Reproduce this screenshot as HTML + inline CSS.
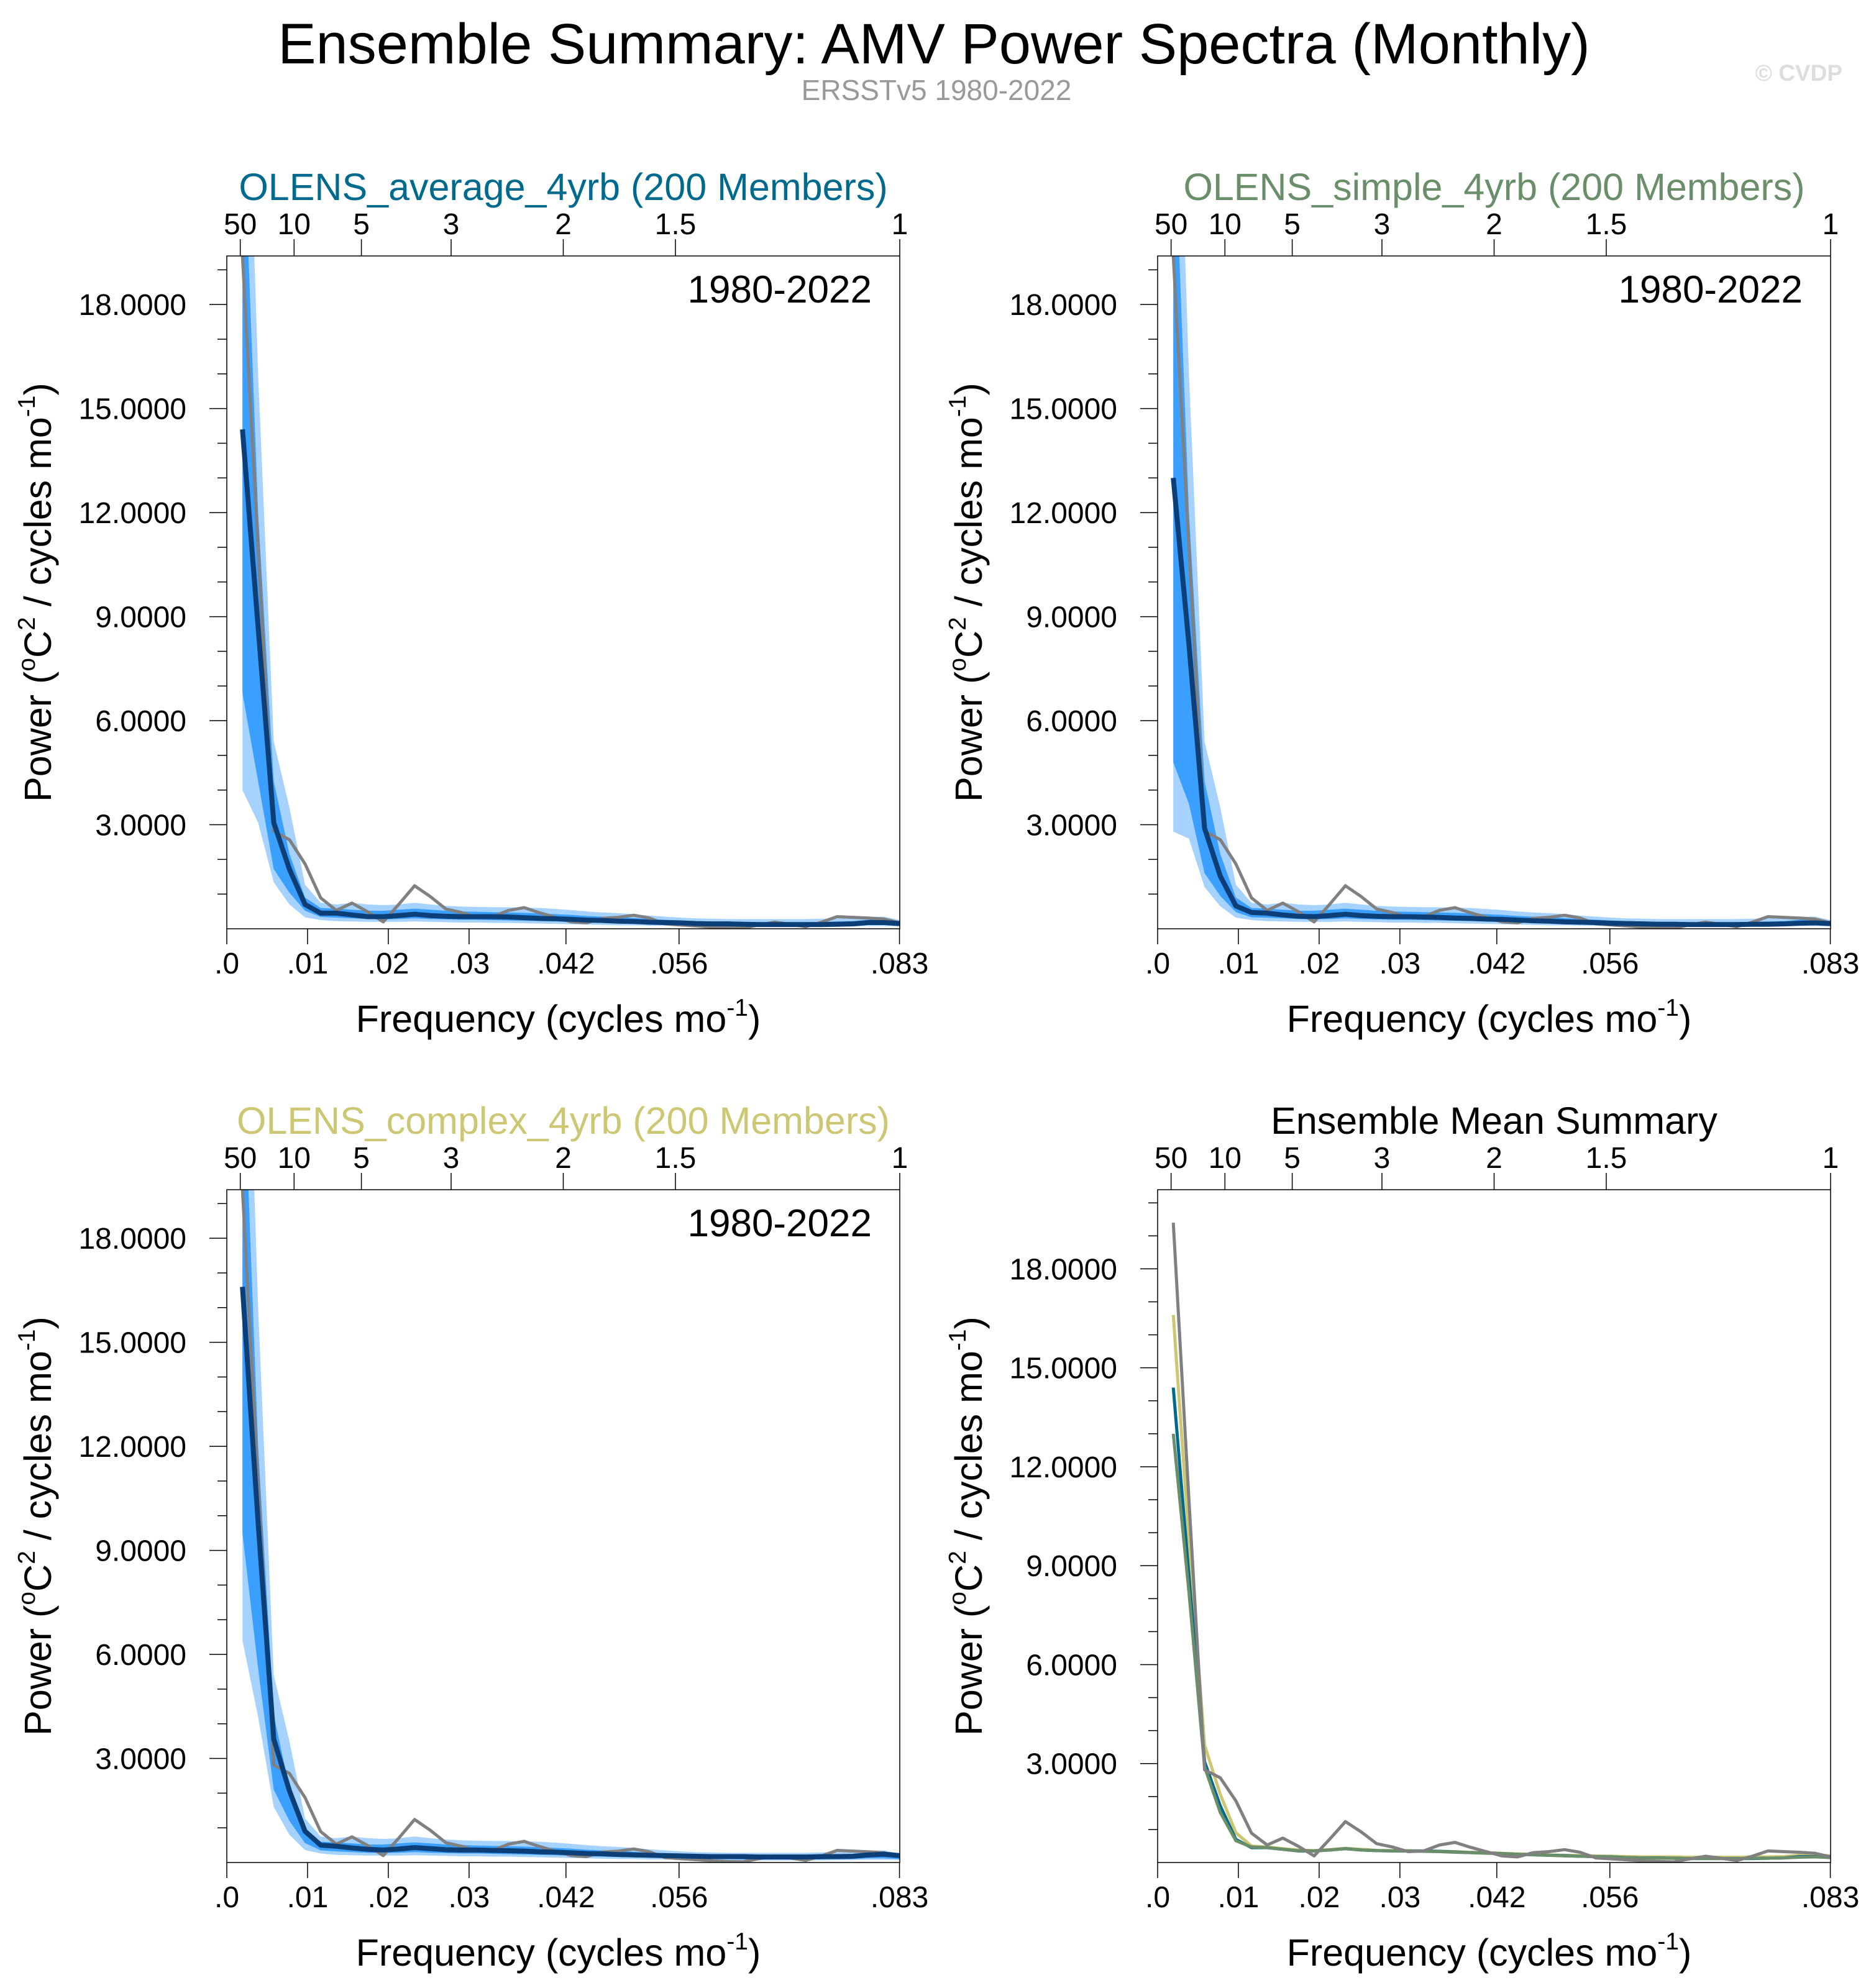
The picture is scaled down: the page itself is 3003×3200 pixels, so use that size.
<!DOCTYPE html>
<html><head><meta charset="utf-8"><style>
html,body{margin:0;padding:0;background:#fff;}
svg{display:block;font-family:"Liberation Sans",sans-serif;}
</style></head><body>
<svg id="fig" width="3003" height="3200" viewBox="0 0 3003 3200" xmlns="http://www.w3.org/2000/svg">
<text x="1503" y="102" font-size="92" text-anchor="middle" fill="#000">Ensemble Summary: AMV Power Spectra (Monthly)</text>
<text x="1507" y="161" font-size="46" text-anchor="middle" fill="#999">ERSSTv5 1980-2022</text>
<text x="2965" y="130" font-size="37" font-weight="bold" text-anchor="end" fill="#ddd">© CVDP</text>
<g id="panels"></g>
</svg>
<script>
// frequencies: k/516, k = 1..43
const obs = [19.4,11.0,2.81,2.57,1.87,0.89,0.53,0.74,0.49,0.20,0.71,1.24,0.93,0.57,0.47,0.33,0.35,0.53,0.61,0.46,0.33,0.20,0.17,0.30,0.33,0.39,0.31,0.14,0.11,0.08,0.05,0.03,0.02,0.11,0.19,0.13,0.06,0.19,0.35,0.33,0.31,0.28,0.17];
const meanAvg = [14.4,8.7,3.06,1.72,0.70,0.45,0.45,0.40,0.35,0.35,0.38,0.42,0.38,0.36,0.35,0.35,0.35,0.34,0.32,0.30,0.29,0.27,0.25,0.24,0.22,0.21,0.19,0.18,0.17,0.15,0.14,0.14,0.13,0.12,0.12,0.12,0.12,0.12,0.13,0.14,0.18,0.18,0.15];
const meanSim = [13.0,8.2,2.9,1.52,0.66,0.47,0.45,0.40,0.36,0.35,0.38,0.42,0.38,0.36,0.35,0.35,0.34,0.33,0.31,0.30,0.28,0.27,0.25,0.23,0.22,0.20,0.19,0.18,0.16,0.15,0.14,0.13,0.13,0.12,0.12,0.12,0.12,0.13,0.13,0.14,0.16,0.17,0.15];
const meanCom = [16.6,9.8,3.56,2.07,0.90,0.50,0.47,0.42,0.38,0.36,0.39,0.43,0.40,0.37,0.36,0.36,0.35,0.34,0.33,0.31,0.30,0.28,0.26,0.25,0.23,0.22,0.21,0.20,0.19,0.18,0.17,0.17,0.17,0.16,0.16,0.16,0.16,0.17,0.17,0.18,0.22,0.24,0.20];
const outerHiA = [30,16,5.4,3.5,1.27,0.75,0.70,0.75,0.70,0.68,0.70,0.75,0.70,0.66,0.64,0.63,0.62,0.62,0.61,0.60,0.57,0.54,0.50,0.47,0.45,0.42,0.38,0.35,0.32,0.30,0.29,0.28,0.28,0.28,0.28,0.28,0.28,0.29,0.30,0.31,0.34,0.35,0.25];
const outerLoA = [4.0,3.06,1.34,0.70,0.33,0.25,0.22,0.21,0.20,0.20,0.20,0.21,0.20,0.19,0.18,0.18,0.17,0.17,0.16,0.15,0.14,0.13,0.12,0.11,0.10,0.10,0.09,0.09,0.08,0.07,0.07,0.07,0.06,0.06,0.06,0.06,0.06,0.06,0.07,0.07,0.08,0.08,0.07];
const innerHiA = [24,12,4.25,2.16,0.90,0.60,0.58,0.55,0.52,0.52,0.55,0.58,0.55,0.52,0.50,0.49,0.48,0.47,0.46,0.44,0.42,0.40,0.37,0.35,0.33,0.31,0.28,0.26,0.24,0.22,0.21,0.20,0.20,0.19,0.19,0.19,0.19,0.20,0.21,0.22,0.26,0.27,0.21];
const innerLoA = [6.8,4.25,1.72,1.04,0.52,0.34,0.32,0.30,0.28,0.27,0.28,0.30,0.28,0.27,0.26,0.26,0.25,0.24,0.23,0.22,0.21,0.19,0.18,0.17,0.16,0.15,0.14,0.13,0.12,0.11,0.10,0.10,0.09,0.09,0.09,0.09,0.09,0.09,0.10,0.10,0.12,0.12,0.10];
const outerLoS = [2.8,2.6,1.2,0.65,0.32,0.25,0.22,0.21,0.20,0.20,0.20,0.21,0.20,0.19,0.18,0.18,0.17,0.17,0.16,0.15,0.14,0.13,0.12,0.11,0.10,0.10,0.09,0.09,0.08,0.07,0.07,0.07,0.06,0.06,0.06,0.06,0.06,0.06,0.07,0.07,0.08,0.08,0.07];
const innerLoS = [4.8,3.6,1.6,0.95,0.48,0.33,0.32,0.30,0.28,0.27,0.28,0.30,0.28,0.27,0.26,0.26,0.25,0.24,0.23,0.22,0.21,0.19,0.18,0.17,0.16,0.15,0.14,0.13,0.12,0.11,0.10,0.10,0.09,0.09,0.09,0.09,0.09,0.09,0.10,0.10,0.12,0.12,0.10];
const outerLoC = [6.4,4.2,1.6,0.8,0.36,0.26,0.22,0.21,0.20,0.20,0.20,0.21,0.20,0.19,0.18,0.18,0.17,0.17,0.16,0.15,0.14,0.13,0.12,0.11,0.10,0.10,0.09,0.09,0.08,0.07,0.07,0.07,0.06,0.06,0.06,0.06,0.06,0.06,0.07,0.07,0.08,0.08,0.07];
const innerLoC = [9.5,5.6,2.1,1.2,0.56,0.35,0.32,0.30,0.28,0.27,0.28,0.30,0.28,0.27,0.26,0.26,0.25,0.24,0.23,0.22,0.21,0.19,0.18,0.17,0.16,0.15,0.14,0.13,0.12,0.11,0.10,0.10,0.09,0.09,0.09,0.09,0.09,0.09,0.10,0.10,0.12,0.12,0.10];
const xTickVals = [0,0.01,0.02,0.03,0.042,0.056,0.0833];
const xTickLabels = [".0",".01",".02",".03",".042",".056",".083"];
const periodVals = [50,10,5,3,2,1.5,1];
const periodLabels = ["50","10","5","3","2","1.5","1"];
const yTickVals = [3,6,9,12,15,18];
const yTickLabels = ["3.0000","6.0000","9.0000","12.0000","15.0000","18.0000"];

const NS="http://www.w3.org/2000/svg";
const root=document.getElementById('panels');
function mk(tag,attrs,parent){const e=document.createElementNS(NS,tag);for(const k in attrs)e.setAttribute(k,attrs[k]);(parent||root).appendChild(e);return e;}
const PW=1083, PH=1083, XMAX=1/12;

function panel(idx,ox,oy,ymax,title,titleColor,opts){
  const g=mk('g',{});
  
  
  const xs=f=>ox+f/XMAX*PW;
  const ys=v=>oy+PH-v/ymax*PH;
  const freqs=obs.map((_,i)=>(i+1)/516);
  const cid='clip'+idx;
  const cp=mk('clipPath',{id:cid},g);
  mk('rect',{x:ox,y:oy,width:PW,height:PH},cp);
  const pg=mk('g',{'clip-path':'url(#'+cid+')'},g);
  function band(hi,lo,color,name){
    let d='M'+freqs.map((f,i)=>xs(f)+','+ys(hi[i])).join('L');
    for(let i=freqs.length-1;i>=0;i--) d+='L'+xs(freqs[i])+','+ys(lo[i]);
    const p=mk('path',{d:d+'Z',fill:color,stroke:'none'},pg);
    
    
  }
  function line(vals,color,w,name){
    const p=mk('polyline',{points:freqs.map((f,i)=>xs(f)+','+ys(vals[i])).join(' '),fill:'none',stroke:color,'stroke-width':w,'stroke-linejoin':'round'},pg);
    
    
  }
  if(opts.bands){
    band(outerHiA,opts.outerLo,'#a6d2ff','outer-spread-band');
    band(innerHiA,opts.innerLo,'#3a9fff','inner-spread-band');
    line(obs,'#808080',5,'observed-line');
    line(opts.mean,'#0c3f78',8,'ensemble-mean-line');
  } else {
    line(meanCom,'#cdc773',5,'complex-mean-line');
    line(meanAvg,'#006a8e',5,'average-mean-line');
    line(meanSim,'#6a8e6a',5,'simple-mean-line');
    line(obs,'#808080',5,'observed-line');
  }
  const fr=mk('rect',{x:ox,y:oy,width:PW,height:PH,fill:'none',stroke:'#000','stroke-width':1.5},g);
  
  
  xTickVals.forEach((v,i)=>{
    mk('line',{x1:xs(v),x2:xs(v),y1:oy+PH,y2:oy+PH+25,stroke:'#000','stroke-width':1.5},g);
    const t=mk('text',{x:xs(v),y:oy+PH+72,'font-size':48,'text-anchor':'middle'},g);
    t.textContent=xTickLabels[i];
    
    
  });
  periodVals.forEach((p,i)=>{
    const x=xs(1/(p*12));
    mk('line',{x1:x,x2:x,y1:oy,y2:oy-27,stroke:'#000','stroke-width':1.5},g);
    const t=mk('text',{x:x,y:oy-35,'font-size':48,'text-anchor':'middle'},g);
    t.textContent=periodLabels[i];
    
    
  });
  for(let v=1;v<ymax;v++){
    const major=v%3===0;
    mk('line',{x1:ox-(major?28:15),x2:ox,y1:ys(v),y2:ys(v),stroke:'#000','stroke-width':1.5},g);
  }
  yTickVals.forEach((v,i)=>{
    const t=mk('text',{x:ox-65,y:ys(v)+17,'font-size':48,'text-anchor':'end'},g);
    t.textContent=yTickLabels[i];
    
    
  });
  const tt=mk('text',{x:ox+PW/2,y:oy-90,'font-size':61,'text-anchor':'middle',fill:titleColor},g);
  tt.textContent=title;
  
  
  if(opts.bands){
    const yr=mk('text',{x:ox+PW-45,y:oy+75,'font-size':62,'text-anchor':'end'},g);
    yr.textContent='1980-2022';
    
    
  }
  const xt=mk('text',{x:ox+PW/2-8,y:oy+PH+166,'font-size':61,'text-anchor':'middle'},g);
  xt.innerHTML='Frequency (cycles mo<tspan dy="-26" font-size="39">-1</tspan><tspan dy="26">)</tspan>';
  
  
  const yt=mk('text',{x:0,y:0,'font-size':61,'text-anchor':'middle',transform:'translate('+(ox-283)+','+(oy+PH/2)+') rotate(-90)'},g);
  yt.innerHTML='Power (<tspan dy="-26" font-size="39">o</tspan><tspan dy="26">C</tspan><tspan dy="-26" font-size="39">2</tspan><tspan dy="26"> / cycles mo</tspan><tspan dy="-26" font-size="39">-1</tspan><tspan dy="26">)</tspan>';
  
  
}
panel(1,365,412,19.4,'OLENS_average_4yrb (200 Members)','#006a8e',{bands:true,mean:meanAvg,outerLo:outerLoA,innerLo:innerLoA});
panel(2,1863,412,19.4,'OLENS_simple_4yrb (200 Members)','#6a8e6a',{bands:true,mean:meanSim,outerLo:outerLoS,innerLo:innerLoS});
panel(3,365,1915,19.4,'OLENS_complex_4yrb (200 Members)','#cdc773',{bands:true,mean:meanCom,outerLo:outerLoC,innerLo:innerLoC});
panel(4,1863,1915,20.4,'Ensemble Mean Summary','#000',{bands:false});
</script>
</body></html>
